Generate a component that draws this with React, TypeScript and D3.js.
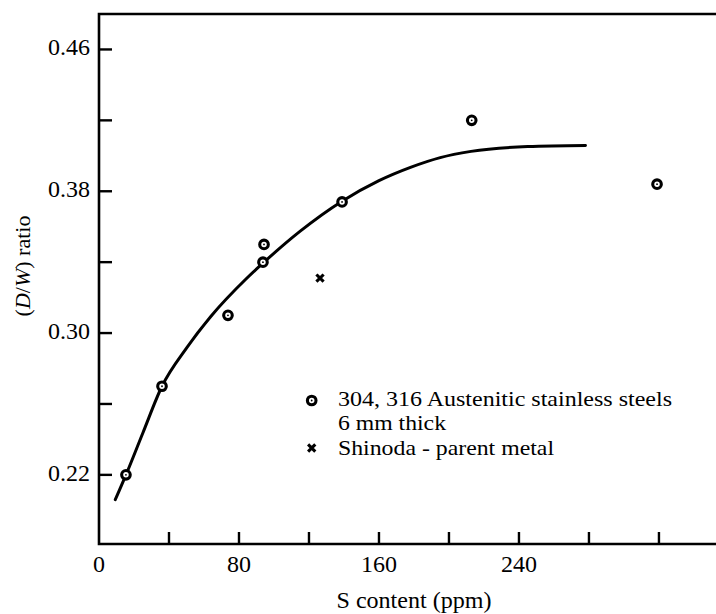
import React from 'react';
import * as d3 from 'd3';

// steel data: [S ppm, D/W ratio]
const steelPoints: [number, number][] = [
  [15.4, 0.22],
  [36, 0.27],
  [73.7, 0.31],
  [94.3, 0.35],
  [93.7, 0.34],
  [138.9, 0.374],
  [213, 0.42],
  [318.9, 0.384],
];
const shinodaPoints: [number, number][] = [[126.3, 0.331]];

// the hand drawn fit curve
const fitCurve: [number, number][] = [
  [9.3, 0.206],
  [15.4, 0.22],
  [25, 0.2435],
  [36, 0.27],
  [50, 0.2915],
  [64, 0.3095],
  [84, 0.3305],
  [94.3, 0.34],
  [115, 0.3575],
  [138.9, 0.3744],
  [160, 0.386],
  [178, 0.3935],
  [195, 0.399],
  [212.6, 0.4025],
  [245, 0.4052],
  [278, 0.4058],
];

const xTicks = [40, 80, 120, 160, 200, 240, 280, 320];
const xLabels = [0, 80, 160, 240];
const yTicks = [0.22, 0.26, 0.3, 0.34, 0.38, 0.42, 0.46];
const yLabels = [0.22, 0.3, 0.38, 0.46];
const legendLines = ['304, 316 Austenitic stainless steels', '6 mm thick', 'Shinoda - parent metal'];
const legendWidths = [334, 108, 216];

const W = 716, H = 614;
const left = 99, top = 14, bottom = 544;
const serif = "'Liberation Serif', 'Times New Roman', Times, serif";

const x = d3.scaleLinear().domain([0, 352.6]).range([left, W]);
const y = d3.scaleLinear().domain([0.181, 0.48]).range([bottom, top]);

const line = d3.line<[number, number]>()
  .x(d => x(d[0]))
  .y(d => y(d[1]))
  .curve(d3.curveMonotoneX);

const Ring = ({ cx, cy }: { cx: number; cy: number }) => (
  <g>
    <circle cx={cx} cy={cy} r={4.3} fill="white" stroke="black" strokeWidth={3.1} />
    <circle cx={cx} cy={cy} r={0.9} fill="black" />
  </g>
);

const Cross = ({ cx, cy }: { cx: number; cy: number }) => (
  <path d={`M${cx - 3.6},${cy - 3.6}L${cx + 3.6},${cy + 3.6}M${cx - 3.6},${cy + 3.6}L${cx + 3.6},${cy - 3.6}`}
    stroke="black" strokeWidth={3.1} />
);

export default function App() {
  return (
    <svg width={W} height={H}
      style={{ position: 'absolute', left: 0, top: 0, background: 'white', fontFamily: serif }}>
      {/* frame, open on the right */}
      <path d={`M${W},${top}H${left}V${bottom}H${W}`} fill="none" stroke="black" strokeWidth={2.6} />

      {xTicks.map(t => (
        <line key={t} x1={x(t)} x2={x(t)} y1={bottom} y2={bottom - 12} stroke="black" strokeWidth={2.4} />
      ))}
      {xLabels.map(t => (
        <text key={t} x={x(t)} y={572} textAnchor="middle" fontSize={24}>{t}</text>
      ))}
      {yTicks.map(t => (
        <line key={t} x1={left} x2={left + 13} y1={y(t)} y2={y(t)} stroke="black" strokeWidth={2.4} />
      ))}
      {yLabels.map(t => (
        <text key={t} x={90} y={y(t) + 6} textAnchor="end" fontSize={24}>{t.toFixed(2)}</text>
      ))}

      <text x={414} y={608} textAnchor="middle" fontSize={23} textLength={155} lengthAdjust="spacingAndGlyphs">
        S content (ppm)
      </text>
      <text transform="translate(30,266) rotate(-90)" textAnchor="middle" fontSize={22}>
        (<tspan fontStyle="italic">D</tspan>/<tspan fontStyle="italic">W</tspan>) ratio
      </text>

      <path d={line(fitCurve) || ''} fill="none" stroke="black" strokeWidth={3} strokeLinecap="round" />

      {steelPoints.map((d, i) => <Ring key={i} cx={x(d[0])} cy={y(d[1])} />)}
      {shinodaPoints.map((d, i) => <Cross key={i} cx={x(d[0])} cy={y(d[1])} />)}

      {/* legend */}
      <g>
        <Ring cx={311.7} cy={400.5} />
        <Cross cx={311.7} cy={448} />
        {legendLines.map((t, i) => (
          <text key={t} x={338} y={[406, 430, 455][i]} fontSize={21} textLength={legendWidths[i]}
            lengthAdjust="spacingAndGlyphs">{t}</text>
        ))}
      </g>
    </svg>
  );
}
